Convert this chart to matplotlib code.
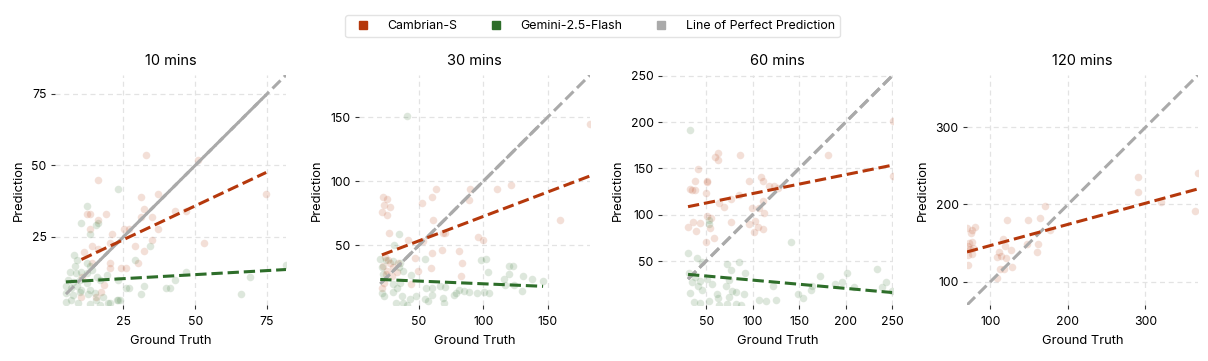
import matplotlib.pyplot as plt
from matplotlib.lines import Line2D
import numpy as np

RED = "#B5380C"
GREEN = "#2E6E2A"
GRAY = "#AAAAAA"

TITLES = ["10 mins", "30 mins", "60 mins", "120 mins"]
TICKS = [[25, 50, 75], [50, 100, 150], [50, 100, 150, 200, 250], [100, 200, 300]]

# ground truth / prediction pairs
cam_gt_10 = [33, 51, 16.2, 74.7, 37, 31, 32.1, 43.1, 46.9, 12.4, 13.3, 19.1, 16.2, 35.1, 31.2,
             13.3, 25.1, 26.9, 37, 21.2, 35.1, 20.3, 53, 29.2, 14.2, 16.2, 32.1, 11.2, 30.1,
             20.3, 14.2, 24.1, 26, 20.3, 18.3, 17.1, 15.4, 10.4, 10.6]
cam_pr_10 = [53.8, 52, 44.8, 39.9, 39.9, 38.9, 34.9, 34, 34, 32.9, 32.9, 32.9, 30.8, 31.8, 31.8,
             27.9, 27.9, 27.9, 27.9, 25.9, 23.9, 22.9, 22.9, 21.9, 21.9, 20.9, 20, 19.8, 15.9,
             15.9, 15.9, 14, 14, 14, 8.2, 5.8, 4, 4, 11.1]
gem_gt_10 = [23.2, 12.2, 10.2, 15.4, 16.2, 13.3, 34.1, 29.2, 7.8, 8.7, 8.1, 12.2, 13.3, 14.2,
             12.4, 6.4, 8.4, 10.1, 46.9, 19.3, 68.9, 5.8, 7.5, 9.8, 12.2, 15.9, 16.8, 43.1, 26,
             27, 32.1, 40, 41.1, 5, 6.9, 8.7, 10.4, 5.2, 7.5, 9.8, 12.7, 15, 17.9, 15.4, 31.2,
             66, 5.2, 6.9, 9.3, 13.3, 16.8, 20.3, 23.2, 23.7, 81.6, 23.2, 13.3, 19.7, 22.9]
gem_pr_10 = [41.9, 35.8, 29.9, 29.1, 30, 25.9, 21.9, 16.9, 18.6, 16.9, 14.8, 15.9, 14.8, 13.4,
             12.3, 12.8, 12.3, 12.8, 12.8, 11.6, 11, 9.9, 9.3, 9.9, 8.8, 11, 9.9, 10, 7, 7, 7.9,
             7, 7, 7.7, 7, 7.7, 6.5, 5.4, 4.8, 5.9, 5.1, 5.4, 4, 2.8, 5.1, 5.1, 2.3, 2.8, 1.9,
             1.5, 1.2, 1.9, 2.8, 2.8, 15.1, 9.9, 6.4, 1.9, 2.9]

cam_gt_30 = [183, 63.4, 89.5, 110.8, 121.8, 21.8, 24.9, 60, 88.5, 22.8, 27.5, 52.3, 21.1, 24.9,
             60.8, 159.8, 26.7, 70.5, 68.5, 96.2, 100, 41.6, 53.1, 60, 68, 81.3, 47.2, 83.4,
             59.5, 49.2, 82.6, 23.6, 27.5, 30, 33.9, 21.8, 25.4, 28.7, 32.6, 26.2, 43.4, 22.8,
             21.1, 24.4]
cam_pr_30 = [144.5, 94.1, 94.1, 94.1, 97.2, 88, 86.2, 88, 85.4, 81.6, 80, 82.9, 76.2, 73.9, 70,
             70, 59.9, 59.9, 59.4, 56.8, 53.9, 53.9, 53.4, 43.9, 46.5, 45.2, 40.2, 36.2, 32.3,
             30.2, 25.8, 40.7, 35.8, 32.6, 35.8, 33.9, 30.2, 26.3, 28.9, 38.3, 19.8, 20.6,
             16.7, 27.2]
gem_gt_30 = [40.3, 34.4, 30.8, 98, 102.3, 103.9, 119.8, 122.9, 130.5, 115.9, 119.8, 137.7,
             146.5, 130, 19.8, 24.4, 30, 35.2, 21.1, 34.7, 37.7, 43.4, 22.3, 54.4, 30, 32.6,
             35.2, 21.1, 29.5, 36.4, 42.8, 22.8, 48, 55.1, 60.3, 66, 70.5, 54.4, 56.9, 60.3,
             69, 69.8, 78.7, 81.3, 85.1, 89, 95.4, 100.5, 104.4, 37.7, 40.3, 32, 77.5, 117.2,
             123.6]
gem_pr_30 = [151.3, 58.7, 50.2, 38.1, 38.9, 28.9, 33.6, 33.6, 25.7, 23.6, 27.6, 23.6, 21.8,
             14.5, 38.9, 38.1, 37.6, 36.3, 32.6, 32.6, 30, 26.8, 27.3, 38.9, 19.8, 16.7, 20.6,
             12.9, 13.6, 10.3, 7.7, 10.3, 10.3, 16.7, 16.7, 18, 17.2, 7.7, 6.6, 11.1, 8.5, 4.6,
             12.4, 15.4, 14.4, 13.6, 12.9, 13.6, 12.9, 4.6, 3.3, 5.1, 11.1, 19.2, 18.7]

cam_gt_60 = [251, 251, 181.4, 86.6, 59.4, 63.1, 63.1, 41.4, 37.8, 34.8, 38.4, 51.1, 50.4, 49.3,
             95.6, 109, 111.6, 117.4, 123.5, 127.1, 33, 85.5, 76.4, 69.2, 63.8, 110.9, 99.3,
             106.5, 51.1, 54.7, 112.7, 43.9, 53.7, 30.5, 35.6, 76.4, 95.6, 102.9, 105.4, 111.6,
             101.8, 39.2, 58.4, 49.3]
cam_pr_60 = [201.6, 141.6, 164.2, 164.2, 162.4, 167.1, 159.1, 149.6, 136.9, 127, 127, 136.9,
             135.1, 123.5, 136.9, 140.9, 136.9, 130.7, 130.7, 128.9, 128, 121.7, 117.3, 108.2,
             112.4, 114.6, 107.6, 107.6, 98.4, 96.6, 101.7, 90.9, 85.5, 87.3, 91.7, 92.1, 90.2,
             92.8, 87.3, 84.4, 80.9, 82.7, 74.6, 70.6]
gem_gt_60 = [33, 141.6, 30.5, 40.3, 45.7, 52.9, 52.9, 72.8, 76.4, 84.8, 92, 31.9, 38.5, 43.9,
             34.8, 41.4, 51.1, 56.6, 45.7, 33, 71, 78.3, 74.6, 81.9, 36.7, 43.9, 52.9, 63.1,
             72.8, 82.6, 63.8, 87.3, 107.2, 114.4, 125.3, 121.7, 148.8, 154.3, 163.3, 164.4,
             172.3, 188.6, 195.9, 201.3, 208.6, 233.9, 243, 239.4, 91, 74.6, 61.9, 250]
gem_pr_60 = [191.8, 70.7, 58.7, 53.6, 48.9, 94.4, 90, 47.2, 39.9, 48.9, 36.9, 36.9, 32.6, 28.9,
             27.1, 23.5, 30.7, 25.2, 18.6, 15, 23.5, 18, 11.5, 16.2, 6.2, 5.1, 6.9, 10.6, 4, 4,
             2.5, 3, 8.4, 6.9, 7.6, 23.5, 14.3, 10.1, 18.6, 23.5, 34.2, 25.2, 27.1, 37.6, 21.5,
             41, 27.1, 21.5, 14.3, 29, 14.3, 18]

cam_gt_120 = [367.8, 290.9, 290.1, 320.3, 363.5, 170.4, 163.9, 148.8, 121.6, 80.5, 76.2, 74.9,
              69.7, 176.4, 116.4, 118.1, 71.9, 76.2, 70.6, 77.5, 73.2, 70.6, 76.2, 147.5, 161.3,
              126.8, 159.6, 110.8, 108.6, 113, 119.4, 71.4, 112.1, 108.6, 117.2, 128]
cam_pr_120 = [240.6, 235.8, 215.6, 202.6, 190.9, 198.2, 183.1, 179.6, 179.6, 170.8, 167.3, 163,
              169.5, 166.6, 155.5, 146.8, 150.6, 151.5, 146.3, 144.2, 142, 134.2, 135.5, 149.3,
              148.4, 140.6, 139, 137.9, 131.4, 132.7, 130.6, 121.2, 116.8, 105.1, 115.9, 118.8]

# linear fits (slope, intercept)
cam_fit = [(0.473, 12.2), (0.381, 34.4), (0.204, 102.5), (0.274, 119.4)]
gem_fit = [(0.0564, 9.0), (-0.0423, 24.1), (-0.0892, 38.3), None]

cam = [(cam_gt_10, cam_pr_10), (cam_gt_30, cam_pr_30), (cam_gt_60, cam_pr_60), (cam_gt_120, cam_pr_120)]
gem = [(gem_gt_10, gem_pr_10), (gem_gt_30, gem_pr_30), (gem_gt_60, gem_pr_60), None]

plt.rcParams["font.family"] = ["Inter", "DejaVu Sans"]

fig = plt.figure(figsize=(12.08, 3.61), dpi=100)
lefts = [55, 359, 662, 967]

for i in range(4):
    ax = fig.add_axes([lefts[i] / 1208, 56 / 361, 231 / 1208, 230 / 361])
    models = [(cam[i], cam_fit[i], RED)]
    if gem[i] is not None:
        models.append((gem[i], gem_fit[i], GREEN))

    allv = []
    for (gt, pr), _, _ in models:
        allv += gt + pr
    lo, hi = min(allv), max(allv)

    for (gt, pr), fit, col in models:
        ax.scatter(gt, pr, s=30, color=col, alpha=0.16, edgecolors="white", linewidths=0.5, zorder=2)
    for (gt, pr), fit, col in models:
        xs = np.array([min(gt), max(gt)])
        ax.plot(xs, xs, color=GRAY, lw=2.2, ls="--", zorder=3)
    for (gt, pr), fit, col in models:
        xs = np.array([min(gt), max(gt)])
        ax.plot(xs, fit[0] * xs + fit[1], color=col, lw=2.2, ls="--", zorder=4)

    ax.set_xlim(lo, hi)
    ax.set_ylim(lo, hi)
    ax.set_xticks(TICKS[i])
    ax.set_yticks(TICKS[i])
    for s in ax.spines.values():
        s.set_visible(False)
    ax.grid(True, color="#E3E3E3", ls=(0, (4, 3)), lw=0.9, zorder=0)
    ax.set_axisbelow(True)
    ax.tick_params(axis="both", labelsize=8.8, length=3, width=0.8, color="#333333", pad=3)
    ax.tick_params(axis="x", pad=5)
    ax.set_title(TITLES[i], fontsize=10.5, pad=7)
    ax.set_xlabel("Ground Truth", fontsize=9.3, labelpad=5)
    ax.set_ylabel("Prediction", fontsize=9.3, labelpad=5)

handles = [
    Line2D([], [], marker="s", ls="none", color=RED, markersize=6),
    Line2D([], [], marker="s", ls="none", color=GREEN, markersize=6),
    Line2D([], [], marker="s", ls="none", color=GRAY, markersize=6),
]
fig.legend(handles, ["Cambrian-S", "Gemini-2.5-Flash", "Line of Perfect Prediction"],
           loc="upper center", bbox_to_anchor=(0.4905, 0.975), ncol=3, fontsize=8.9,
           frameon=True, edgecolor="#DDDDDD", handletextpad=1.0, columnspacing=2.1,
           borderpad=0.4, fancybox=True)

fig.savefig("out.png", dpi=100)
